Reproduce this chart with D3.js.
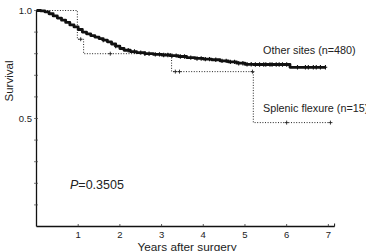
<!DOCTYPE html>
<html><head><meta charset="utf-8">
<script src="https://cdn.jsdelivr.net/npm/d3@7"></script>
<style>html,body{margin:0;padding:0;background:#fff;overflow:hidden}</style>
</head><body>
<script>
// Kaplan–Meier step points (time in years, survival)
const otherTimes = [0,0.10,0.20,0.30,0.40,0.50,0.60,0.70,0.80,0.90,1.00,1.10,1.20,1.30,1.40,1.50,1.60,1.70,1.80,1.90,2.00,2.10,2.25,2.40,2.60,2.80,3.00,3.20,3.40,3.60,3.80,4.00,4.20,4.40,4.60,4.80,5.00,5.20,6.08];
const otherSurv  = [1.000,0.998,0.994,0.985,0.975,0.965,0.955,0.945,0.933,0.924,0.912,0.900,0.892,0.884,0.877,0.870,0.863,0.855,0.845,0.835,0.824,0.816,0.810,0.805,0.800,0.797,0.794,0.791,0.787,0.782,0.778,0.775,0.772,0.767,0.762,0.756,0.751,0.750,0.737];
const otherCensored = [1.6,1.9,2.2,2.35,2.5,2.6,2.7,2.85,2.95,3.05,3.15,3.25,3.35,3.45,3.55,3.7,3.85,3.95,4.05,4.15,4.3,4.45,4.55,4.65,4.75,4.85,4.95,5.05,5.15,5.25,5.35,5.45,5.5,5.6,5.65,5.75,5.82,5.9,6.0,6.26,6.45,6.52,6.64,6.71,6.81,6.93];
const otherEnd = 6.93;

const splenTimes = [0,0.98,1.13,3.24,5.20];
const splenSurv  = [1.000,0.867,0.800,0.717,0.481];
const splenCensored = [1.06,1.77,3.33,3.43,5.18,6.0,7.05];
const splenEnd = 7.05;

const xTicks = [1,2,3,4,5,6,7];
const yTickLabels = [0.5,1.0];
const yMinorTicks = [0.1,0.2,0.3,0.4,0.5,0.6,0.7,0.8,0.9,1.0];

const labels = {
  other: "Other sites (n=480)",
  splen: "Splenic flexure (n=15)",
  pval: "=0.3505",
  xTitle: "Years after surgery",
  yTitle: "Survival"
};

const W = 366, H = 251;
const svg = d3.select("body").append("svg").attr("width", W).attr("height", H)
  .style("font-family", "'Liberation Sans', Arial, Helvetica, sans-serif");

const x = d3.scaleLinear().domain([0, 7.15]).range([36.5, 334.6]);
const y = d3.scaleLinear().domain([0, 1]).range([226.5, 10.5]);

function survAt(times, surv, t) {
  let v = surv[0];
  for (let i = 0; i < times.length; i++) if (times[i] <= t) v = surv[i];
  return v;
}
function stepPts(times, surv, end) {
  const pts = times.map((t, i) => [t, surv[i]]);
  pts.push([end, surv[surv.length - 1]]);
  return pts;
}
const line = d3.line().x(d => x(d[0])).y(d => y(d[1])).curve(d3.curveStepAfter);

// Axes
svg.append("line").attr("x1", x(0)).attr("x2", x(0)).attr("y1", y(1)).attr("y2", y(0))
  .attr("stroke", "#111").attr("stroke-width", 1.3);
svg.append("line").attr("x1", x(0)).attr("x2", x(7.15)).attr("y1", y(0)).attr("y2", y(0))
  .attr("stroke", "#111").attr("stroke-width", 1.3);
svg.append("line").attr("x1", x(7.15)).attr("x2", x(7.15)).attr("y1", y(0)).attr("y2", y(0) - 3)
  .attr("stroke", "#111").attr("stroke-width", 1);

svg.selectAll(".xt").data(xTicks).enter().append("line")
  .attr("x1", d => x(d)).attr("x2", d => x(d)).attr("y1", y(0)).attr("y2", y(0) - 2.5)
  .attr("stroke", "#333").attr("stroke-width", 0.8);
svg.selectAll(".xl").data(xTicks).enter().append("text")
  .attr("x", d => x(d)).attr("y", 237.5).attr("text-anchor", "middle")
  .attr("font-size", 9.5).attr("fill", "#222").text(d => d);

svg.selectAll(".yt").data(yMinorTicks).enter().append("line")
  .attr("x1", x(0) - 2.5).attr("x2", x(0) + 1.5).attr("y1", d => y(d)).attr("y2", d => y(d))
  .attr("stroke", "#444").attr("stroke-width", 0.7);
svg.selectAll(".yl").data(yTickLabels).enter().append("text")
  .attr("x", 32).attr("y", d => y(d) + 3.3).attr("text-anchor", "end")
  .attr("font-size", 9.5).attr("fill", "#222").text(d => d.toFixed(1));

// Titles
svg.append("text").attr("transform", "translate(12.5,81) rotate(-90)")
  .attr("text-anchor", "middle").attr("font-size", 11.5).attr("fill", "#222").text(labels.yTitle);
svg.append("text").attr("x", 187).attr("y", 251).attr("text-anchor", "middle")
  .attr("font-size", 11.8).attr("fill", "#222").text(labels.xTitle);

// Splenic flexure (dotted)
svg.append("path").datum(stepPts(splenTimes, splenSurv, splenEnd))
  .attr("d", line).attr("fill", "none").attr("stroke", "#222")
  .attr("stroke-width", 1).attr("stroke-dasharray", "1,1.6");
svg.selectAll(".sc").data(splenCensored).enter().append("path")
  .attr("d", d => {
    const cx = x(d), cy = y(survAt(splenTimes, splenSurv, d));
    return `M${cx - 2},${cy}H${cx + 2}M${cx},${cy - 2}V${cy + 2}`;
  })
  .attr("stroke", "#222").attr("stroke-width", 0.9);

// Other sites (thick solid)
svg.append("path").datum(stepPts(otherTimes, otherSurv, otherEnd))
  .attr("d", line).attr("fill", "none").attr("stroke", "#111")
  .attr("stroke-width", 2.8).attr("stroke-linejoin", "round");
svg.selectAll(".oc").data(otherCensored).enter().append("path")
  .attr("d", d => {
    const cx = x(d), cy = y(survAt(otherTimes, otherSurv, d));
    return `M${cx - 1.8},${cy}H${cx + 1.8}M${cx},${cy - 2.2}V${cy + 2.2}`;
  })
  .attr("stroke", "#111").attr("stroke-width", 1.1);

// Labels
svg.append("text").attr("x", 263).attr("y", 54).attr("font-size", 10.8).attr("fill", "#222").text(labels.other);
svg.append("text").attr("x", 263).attr("y", 112).attr("font-size", 10.8).attr("fill", "#222").text(labels.splen);
const pt = svg.append("text").attr("x", 70).attr("y", 189).attr("font-size", 12.5).attr("fill", "#222");
pt.append("tspan").attr("font-style", "italic").text("P");
pt.append("tspan").text(labels.pval);
</script>
</body></html>
